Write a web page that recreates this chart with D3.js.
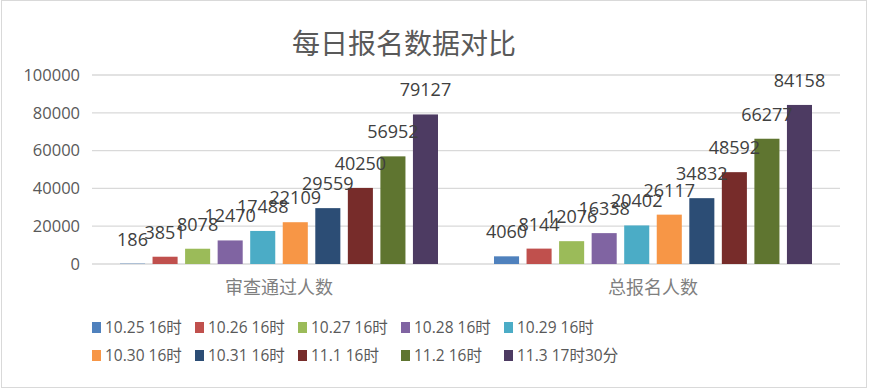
<!DOCTYPE html>
<html>
<head>
<meta charset="utf-8">
<script src="https://cdn.jsdelivr.net/npm/d3@7"></script>
<style>
  body { margin: 0; background: #fff; }
  svg { font-family: "Open Sans", "Noto Sans CJK SC", sans-serif; }
</style>
</head>
<body>
<div id="chart"></div>
<script>
// categories on the x axis
const categories = ["审查通过人数", "总报名人数"];
// series (one per day)
const seriesNames = ["10.25 16时", "10.26 16时", "10.27 16时", "10.28 16时", "10.29 16时",
                     "10.30 16时", "10.31 16时", "11.1 16时", "11.2 16时", "11.3 17时30分"];
const reviewed = [186, 3851, 8078, 12470, 17488, 22109, 29559, 40250, 56952, 79127];
const totalSignup = [4060, 8144, 12076, 16338, 20402, 26117, 34832, 48592, 66277, 84158];
const yTicks = [0, 20000, 40000, 60000, 80000, 100000];
const colors = ["#4F81BD", "#C0504D", "#9BBB59", "#8064A2", "#4BACC6",
                "#F79646", "#2C4D75", "#772C2A", "#5F7530", "#4D3B62"];

const width = 870, height = 389;
const margin = { top: 75, right: 30, bottom: 125, left: 92 };
const innerW = width - margin.left - margin.right;
const innerH = height - margin.top - margin.bottom;

const svg = d3.select("#chart").append("svg")
    .attr("width", width)
    .attr("height", height);

// outer border
svg.append("rect")
    .attr("x", 1.5).attr("y", 0.5)
    .attr("width", width - 5).attr("height", height - 2)
    .attr("fill", "#fff").attr("stroke", "#d9d9d9");

// title
svg.append("text")
    .attr("x", 404).attr("y", 54)
    .attr("text-anchor", "middle")
    .attr("font-family", "Noto Sans CJK SC")
    .attr("font-size", "28px")
    .attr("fill", "#595959")
    .text("每日报名数据对比");

const g = svg.append("g").attr("transform", `translate(${margin.left},${margin.top})`);

const x0 = d3.scaleBand().domain(categories).range([0, innerW]).paddingInner(0).paddingOuter(0);
const x1 = d3.scaleBand().domain(seriesNames).range([28, x0.bandwidth() - 28])
    .paddingInner(0.23).paddingOuter(0);
const y = d3.scaleLinear().domain([0, 100000]).range([innerH, 0]);

// gridlines
g.selectAll(".grid").data(yTicks).enter().append("line")
    .attr("x1", 0).attr("x2", innerW)
    .attr("y1", d => y(d)).attr("y2", d => y(d))
    .attr("stroke", "#d9d9d9").attr("stroke-width", 1.3);

// y axis labels
g.selectAll(".ylab").data(yTicks).enter().append("text")
    .attr("x", -12).attr("y", d => y(d)).attr("dy", "0.35em")
    .attr("text-anchor", "end")
    .attr("font-size", "16.5px").attr("fill", "#595959")
    .text(d => d);

const rows = categories.map((c, i) => ({
    cat: c,
    values: seriesNames.map((s, j) => ({ s, j, v: i === 0 ? reviewed[j] : totalSignup[j] }))
}));

const grp = g.selectAll(".grp").data(rows).enter().append("g")
    .attr("transform", d => `translate(${x0(d.cat)},0)`);

grp.selectAll("rect").data(d => d.values).enter().append("rect")
    .attr("x", d => x1(d.s))
    .attr("y", d => y(d.v))
    .attr("width", x1.bandwidth())
    .attr("height", d => innerH - y(d.v))
    .attr("fill", d => colors[d.j]);

grp.selectAll(".val").data(d => d.values).enter().append("text")
    .attr("x", d => x1(d.s) + x1.bandwidth() / 2)
    .attr("y", d => y(d.v) - 18)
    .attr("text-anchor", "middle")
    .attr("font-size", "18px").attr("fill", "#404040")
    .text(d => d.v);

// category labels
g.selectAll(".cat").data(categories).enter().append("text")
    .attr("x", d => x0(d) + x0.bandwidth() / 2)
    .attr("y", innerH + 30)
    .attr("text-anchor", "middle")
    .attr("font-family", "Noto Sans CJK SC")
    .attr("font-size", "18px").attr("fill", "#7f7f7f")
    .text(d => d);

// legend
const legend = svg.append("g").attr("transform", "translate(92,322)");
seriesNames.forEach((s, i) => {
    const col = i % 5, row = Math.floor(i / 5);
    const lg = legend.append("g").attr("transform", `translate(${col * 103},${row * 28})`);
    lg.append("rect").attr("x", 0).attr("y", 0).attr("width", 9).attr("height", 11)
        .attr("fill", colors[i]);
    lg.append("text").attr("x", 13).attr("y", 6).attr("dy", "0.35em")
        .attr("font-size", "15.5px").attr("fill", "#595959")
        .text(s);
});
</script>
</body>
</html>
